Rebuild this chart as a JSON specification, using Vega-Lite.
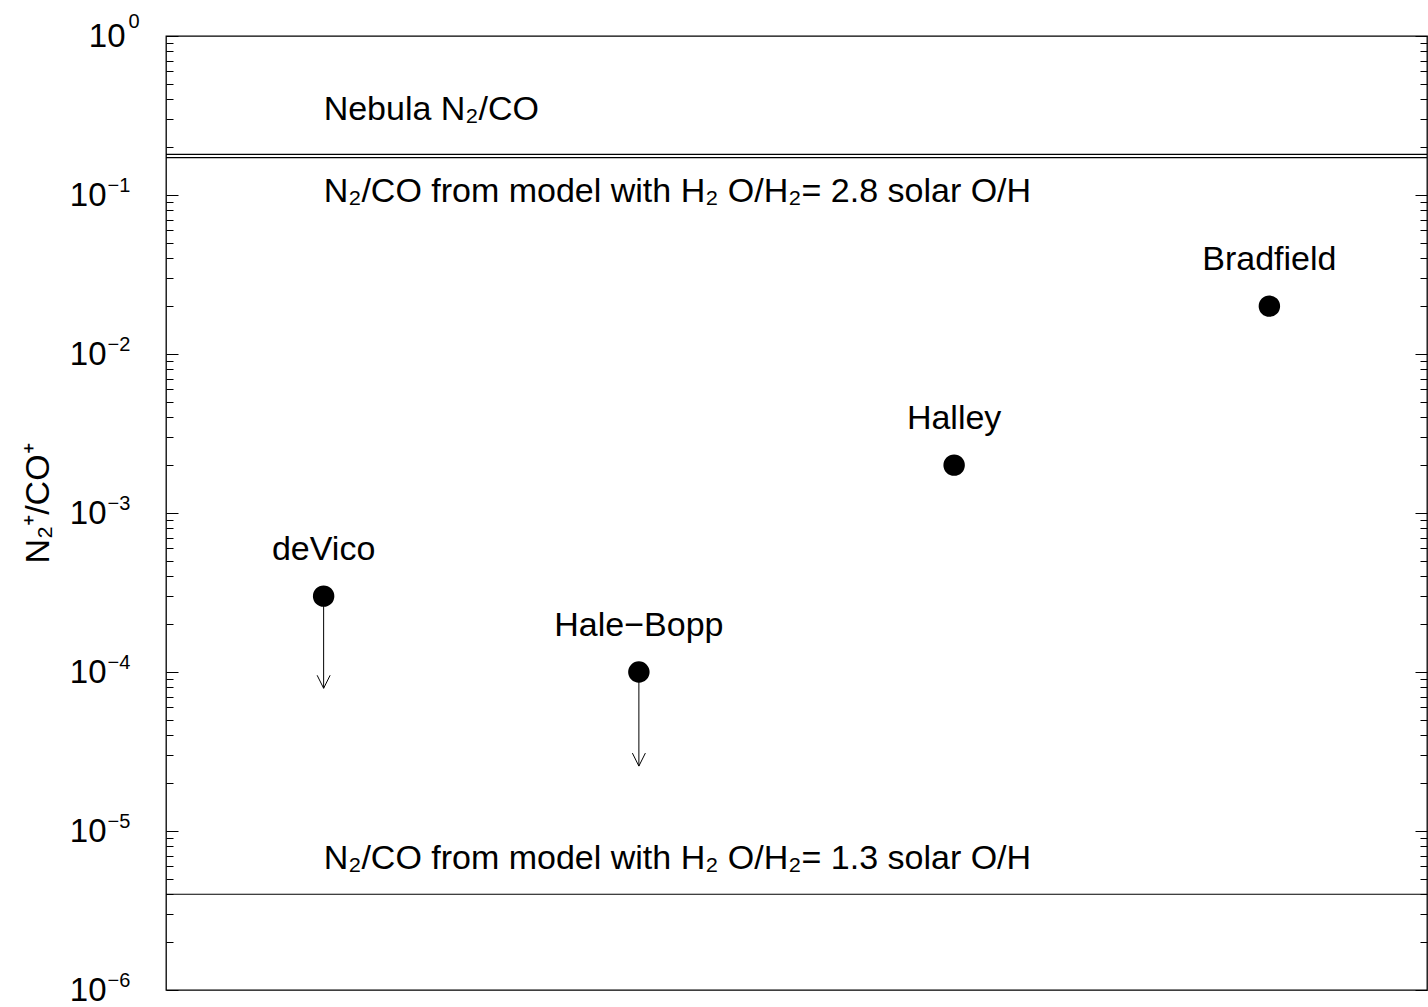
{
  "$schema": "https://vega.github.io/schema/vega-lite/v6.json",
  "width": 1261,
  "height": 954,
  "autosize": {"type": "none"},
  "padding": {"left": 166, "top": 36, "right": 1, "bottom": 17},
  "background": "white",
  "config": {
    "font": "Liberation Sans",
    "view": {"stroke": "black", "strokeWidth": 1.3},
    "axis": {"grid": false, "domain": false, "labelColor": "black", "tickColor": "black"}
  },
  "datasets": {
    "lines": [
      {"name": "Nebula N2/CO", "v": 0.18},
      {"name": "model 2.8 solar O/H", "v": 0.172},
      {"name": "model 1.3 solar O/H", "v": 4e-6}
    ],
    "comets": [
      {"comet": "deVico", "x": 0.5, "v": 3e-4, "limit": 7.9e-5},
      {"comet": "Hale−Bopp", "x": 1.5, "v": 1e-4, "limit": 2.56e-5},
      {"comet": "Halley", "x": 2.5, "v": 2e-3},
      {"comet": "Bradfield", "x": 3.5, "v": 2e-2}
    ],
    "notes": [
      {"text": "Nebula N₂/CO", "x": 0.5, "v": 0.296},
      {"text": "N₂/CO from model with H₂ O/H₂= 2.8 solar O/H", "x": 0.5, "v": 0.0908},
      {"text": "N₂/CO from model with H₂ O/H₂= 1.3 solar O/H", "x": 0.5, "v": 5.77e-6}
    ]
  },
  "resolve": {"axis": {"y": "independent"}},
  "layer": [
    {
      "data": {"name": "lines"},
      "mark": {"type": "rule", "color": "black", "strokeWidth": 1.2},
      "encoding": {
        "y": {
          "field": "v", "type": "quantitative",
          "scale": {"type": "log", "domain": [1e-6, 1], "nice": false},
          "axis": {
            "orient": "left",
            "values": [1e-6,2e-6,3e-6,4e-6,5e-6,6e-6,7e-6,8e-6,9e-6,1e-5,2e-5,3e-5,4e-5,5e-5,6e-5,7e-5,8e-5,9e-5,1e-4,2e-4,3e-4,4e-4,5e-4,6e-4,7e-4,8e-4,9e-4,1e-3,2e-3,3e-3,4e-3,5e-3,6e-3,7e-3,8e-3,9e-3,1e-2,2e-2,3e-2,4e-2,5e-2,6e-2,7e-2,8e-2,9e-2,0.1,0.2,0.3,0.4,0.5,0.6,0.7,0.8,0.9,1],
            "labels": false,
            "ticks": true,
            "tickWidth": 1,
            "tickSize": {"condition": {"test": "abs(log(datum.value)/LN10 - round(log(datum.value)/LN10)) < 0.001", "value": -12}, "value": -7},
            "title": "N₂⁺/CO⁺",
            "titleFont": "Liberation Sans",
            "titleFontSize": 34,
            "titleFontWeight": "normal",
            "titleColor": "black",
            "titleX": -128,
            "titleY": 467,
            "titleAngle": -90,
            "titleAlign": "center",
            "titleBaseline": "middle"
          }
        }
      }
    },
    {
      "data": {"name": "comets"},
      "mark": {"type": "circle", "color": "black", "opacity": 1, "size": 460},
      "encoding": {
        "x": {"field": "x", "type": "quantitative", "scale": {"domain": [0, 4], "nice": false, "zero": false}, "axis": null},
        "y": {
          "field": "v", "type": "quantitative",
          "axis": {
            "orient": "left",
            "values": [1e-6, 1e-5, 1e-4, 1e-3, 1e-2, 0.1, 1],
            "ticks": false,
            "labelExpr": "'10'",
            "labelFont": "Liberation Sans",
            "labelFontSize": 33,
            "labelAlign": "right",
            "labelBaseline": "middle",
            "labelPadding": {"condition": {"test": "datum.value == 1", "value": 41}, "value": 60},
            "labelOverlap": false,
            "labelFlush": false,
            "labelBound": false,
            "title": null
          }
        }
      }
    },
    {
      "data": {"name": "comets"},
      "transform": [{"filter": "isValid(datum.limit)"}],
      "mark": {"type": "rule", "color": "black", "strokeWidth": 1},
      "encoding": {
        "x": {"field": "x", "type": "quantitative", "axis": null},
        "y": {
          "field": "v", "type": "quantitative",
          "axis": {
            "orient": "left",
            "values": [1e-6, 1e-5, 1e-4, 1e-3, 1e-2, 0.1, 1],
            "ticks": false,
            "labelExpr": "replace(format(round(log(datum.value)/LN10), 'd'), '-', '−')",
            "labelFont": "Liberation Sans",
            "labelFontSize": 20,
            "labelAlign": "left",
            "labelBaseline": "middle",
            "labelPadding": {"condition": {"test": "datum.value == 1", "value": 38}, "value": 59},
            "labelOffset": {"condition": {"test": "datum.value == 1", "value": -15}, "value": -10},
            "labelOverlap": false,
            "labelFlush": false,
            "labelBound": false,
            "title": null
          }
        },
        "y2": {"field": "limit"}
      }
    },
    {
      "data": {"name": "comets"},
      "transform": [{"filter": "isValid(datum.limit)"}],
      "mark": {"type": "point", "shape": "M-0.5,-1L0,0L0.5,-1", "filled": false, "stroke": "black", "strokeWidth": 1, "size": 676, "opacity": 1},
      "encoding": {
        "x": {"field": "x", "type": "quantitative", "axis": null},
        "y": {
          "field": "limit", "type": "quantitative",
          "axis": {
            "orient": "right",
            "values": [1e-6,2e-6,3e-6,4e-6,5e-6,6e-6,7e-6,8e-6,9e-6,1e-5,2e-5,3e-5,4e-5,5e-5,6e-5,7e-5,8e-5,9e-5,1e-4,2e-4,3e-4,4e-4,5e-4,6e-4,7e-4,8e-4,9e-4,1e-3,2e-3,3e-3,4e-3,5e-3,6e-3,7e-3,8e-3,9e-3,1e-2,2e-2,3e-2,4e-2,5e-2,6e-2,7e-2,8e-2,9e-2,0.1,0.2,0.3,0.4,0.5,0.6,0.7,0.8,0.9,1],
            "labels": false,
            "ticks": true,
            "tickWidth": 1,
            "tickSize": {"condition": {"test": "abs(log(datum.value)/LN10 - round(log(datum.value)/LN10)) < 0.001", "value": -12}, "value": -7},
            "title": null
          }
        }
      }
    },
    {
      "data": {"name": "comets"},
      "mark": {"type": "text", "fontSize": 34, "color": "black", "align": "center", "baseline": "middle", "dy": -46},
      "encoding": {
        "x": {"field": "x", "type": "quantitative", "axis": null},
        "y": {"field": "v", "type": "quantitative", "axis": null},
        "text": {"field": "comet"}
      }
    },
    {
      "data": {"name": "notes"},
      "mark": {"type": "text", "fontSize": 34, "color": "black", "align": "left", "baseline": "alphabetic"},
      "encoding": {
        "x": {"field": "x", "type": "quantitative", "axis": null},
        "y": {"field": "v", "type": "quantitative", "axis": null},
        "text": {"field": "text"}
      }
    }
  ]
}
